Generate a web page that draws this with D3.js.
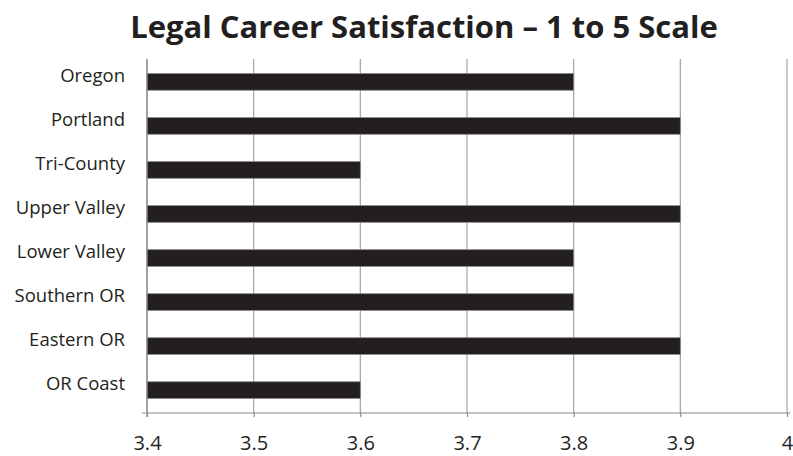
<!DOCTYPE html>
<html>
<head>
<meta charset="utf-8">
<script src="https://cdn.jsdelivr.net/npm/d3@7"></script>
<style>
  body { margin: 0; background: #fff; }
  text { font-family: "Open Sans", sans-serif; fill: #231f20; }
</style>
</head>
<body>
<div id="chart"></div>
<script>
// chart data
var regions = ["Oregon", "Portland", "Tri-County", "Upper Valley", "Lower Valley", "Southern OR", "Eastern OR", "OR Coast"];
var scores = [3.8, 3.9, 3.6, 3.9, 3.8, 3.8, 3.9, 3.6];
var xTicks = [3.4, 3.5, 3.6, 3.7, 3.8, 3.9, 4];

var svgWidth = 793;
var svgHeight = 456;

var margin = { top: 59, right: 6, bottom: 43, left: 147 };
var width = svgWidth - margin.left - margin.right;
var height = svgHeight - margin.top - margin.bottom;

var svg = d3.select("#chart")
    .append("svg")
    .attr("width", svgWidth)
    .attr("height", svgHeight);

// title
svg.append("text")
    .attr("x", 424)
    .attr("y", 38)
    .attr("text-anchor", "middle")
    .attr("font-size", "31px")
    .attr("font-weight", "bold")
    .text("Legal Career Satisfaction \u2013 1 to 5 Scale");

var chartGroup = svg.append("g")
    .attr("transform", `translate(${margin.left}, ${margin.top})`);

var xScale = d3.scaleLinear()
    .domain([3.4, 4])
    .range([0, width]);

var yScale = d3.scaleBand()
    .domain(regions)
    .range([0, height])
    .paddingInner(0.62)
    .paddingOuter(0.33);

// vertical grid lines
chartGroup.selectAll(".grid")
    .data(xTicks)
    .enter()
    .append("line")
    .attr("x1", d => xScale(d))
    .attr("x2", d => xScale(d))
    .attr("y1", 0)
    .attr("y2", height)
    .attr("stroke", "#a3a3a3")
    .attr("stroke-width", 1.2);

// bars
chartGroup.selectAll(".bar")
    .data(regions)
    .enter()
    .append("rect")
    .attr("x", xScale(3.4))
    .attr("y", d => yScale(d))
    .attr("width", (d, i) => xScale(scores[i]) - xScale(3.4))
    .attr("height", yScale.bandwidth())
    .attr("fill", "#231f20")
    .attr("stroke", "#8a8a8a")
    .attr("stroke-width", 0.8);

// x axis
var bottomAxis = d3.axisBottom(xScale)
    .tickValues(xTicks)
    .tickFormat(d3.format("~g"))
    .tickSize(4)
    .tickPadding(19);

var xAxis = chartGroup.append("g")
    .attr("transform", `translate(0, ${height})`)
    .call(bottomAxis);

xAxis.select(".domain").remove();
xAxis.append("line")
    .attr("x1", -5)
    .attr("x2", width + 3)
    .attr("stroke", "#8a8a8a")
    .attr("stroke-width", 1.2);
xAxis.selectAll(".tick line").attr("stroke", "#8a8a8a").attr("stroke-width", 1.2);
xAxis.selectAll(".tick text")
    .attr("font-size", "20px")
    .attr("font-family", "Open Sans, sans-serif")
    .attr("fill", "#231f20");

// left axis line
chartGroup.append("line")
    .attr("x1", 0)
    .attr("x2", 0)
    .attr("y1", 0)
    .attr("y2", height + 4)
    .attr("stroke", "#8a8a8a")
    .attr("stroke-width", 1.2);

// category labels
chartGroup.selectAll(".label")
    .data(regions)
    .enter()
    .append("text")
    .attr("x", -22)
    .attr("y", d => yScale(d) + yScale.bandwidth() / 2)
    .attr("text-anchor", "end")
    .attr("font-size", "18.5px")
    .text(d => d);
</script>
</body>
</html>
